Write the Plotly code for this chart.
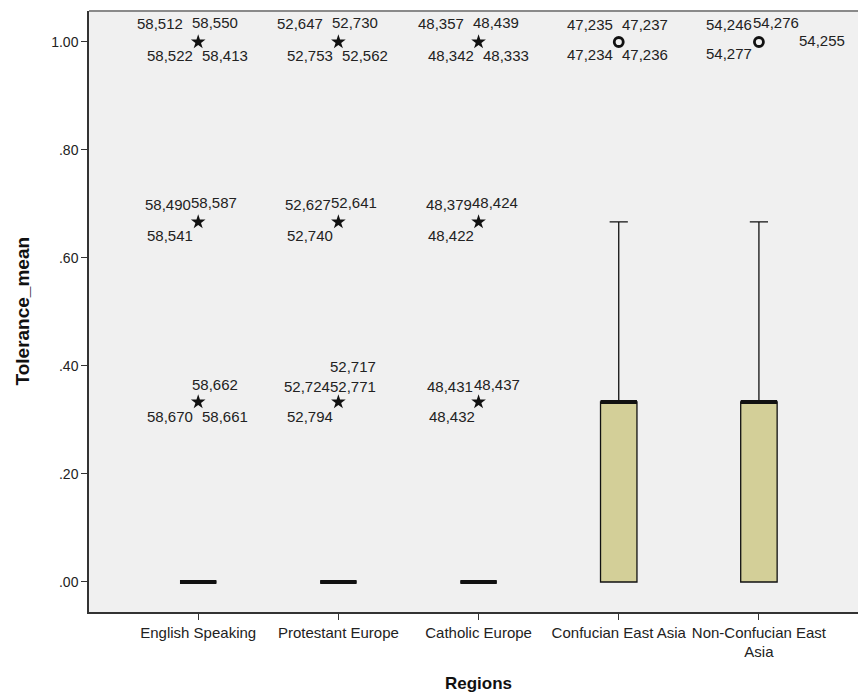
import plotly.graph_objects as go

# ---------------- data ----------------
categories = ["English Speaking", "Protestant Europe", "Catholic Europe",
              "Confucian East Asia", "Non-Confucian East<br>Asia"]
q1 = [0, 0, 0, 0, 0]
median = [0, 0, 0, 0.3333, 0.3333]
q3 = [0, 0, 0, 0.3333, 0.3333]
lowerfence = [0, 0, 0, 0, 0]
upperfence = [0, 0, 0, 0.6667, 0.6667]

# extreme values (asterisks): category index, value
extreme_cat = [0, 0, 0, 1, 1, 1, 2, 2, 2]
extreme_val = [1.0, 0.6667, 0.3333, 1.0, 0.6667, 0.3333, 1.0, 0.6667, 0.3333]
# outliers (circles)
outlier_cat = [3, 4]
outlier_val = [1.0, 1.0]

# case labels for each point (same order as above)
eng_100 = ["58,512", "58,550", "58,522", "58,413"]
eng_067 = ["58,490", "58,587", "58,541"]
eng_033 = ["58,662", "58,670", "58,661"]
pro_100 = ["52,647", "52,730", "52,753", "52,562"]
pro_067 = ["52,627", "52,641", "52,740"]
pro_033 = ["52,717", "52,724", "52,771", "52,794"]
cat_100 = ["48,357", "48,439", "48,342", "48,333"]
cat_067 = ["48,379", "48,424", "48,422"]
cat_033 = ["48,431", "48,437", "48,432"]
con_100 = ["47,235", "47,237", "47,234", "47,236"]
ncn_100 = ["54,246", "54,276", "54,277", "54,255"]

yticks = [0, 0.2, 0.4, 0.6, 0.8, 1.0]
ytick_text = [".00", ".20", ".40", ".60", ".80", "1.00"]
x_title = "Regions"
y_title = "Tolerance_mean"

# ---------------- styles / label placement (pixels) ----------------
BOX_W = 0.26
FONT = "Liberation Sans, Arial, sans-serif"
off4 = [(-38, -18), (17, -19), (-28, 14), (27, 14)]
off3 = [(-30, -17), (16, -19), (-28, 14)]
label_groups = [
    (eng_100, off4),
    (eng_067, off3),
    (eng_033, [(17, -18), (-28, 14), (27, 14)]),
    (pro_100, off4),
    (pro_067, off3),
    (pro_033, [(15, -36), (-31, -16), (15, -16), (-28, 14)]),
    (cat_100, off4),
    (cat_067, off3),
    (cat_033, [(-29, -16), (18, -18), (-27, 14)]),
]
outlier_label_groups = [
    (con_100, [(-29, -17), (26, -17), (-29, 13), (26, 13)]),
    (ncn_100, [(-30, -17), (17, -19), (-30, 12), (63, -1)]),
]

fig = go.Figure()

fig.add_trace(go.Box(
    x=list(range(len(categories))),
    q1=q1, median=median, q3=q3,
    lowerfence=lowerfence, upperfence=upperfence,
    width=BOX_W, whiskerwidth=0.5,
    fillcolor="#D3CF98",
    line=dict(color="#111111", width=1.3),
    boxpoints=False, showlegend=False, hoverinfo="skip",
))

# thick median lines
mx, my = [], []
for i, m in enumerate(median):
    mx += [i - BOX_W / 2, i + BOX_W / 2, None]
    my += [m, m, None]
fig.add_trace(go.Scatter(x=mx, y=my, mode="lines",
                         line=dict(color="#111111", width=4),
                         showlegend=False, hoverinfo="skip"))

fig.add_trace(go.Scatter(x=extreme_cat, y=extreme_val, mode="markers",
                         marker=dict(symbol="star", size=11, color="#111111",
                                     line=dict(width=0)),
                         showlegend=False, hoverinfo="skip"))
fig.add_trace(go.Scatter(x=outlier_cat, y=outlier_val, mode="markers",
                         marker=dict(symbol="circle-open", size=9, color="#111111",
                                     line=dict(width=2.8)),
                         showlegend=False, hoverinfo="skip"))

LBL_FONT = dict(family=FONT, size=15, color="#222222")
annotations = []
for (labels, offs), c, v in zip(label_groups, extreme_cat, extreme_val):
    for t, (dx, dy) in zip(labels, offs):
        annotations.append(dict(x=c, y=v, xref="x", yref="y", text=t, showarrow=False,
                                xanchor="center", yanchor="middle",
                                xshift=dx, yshift=-dy, font=LBL_FONT))
for (labels, offs), c, v in zip(outlier_label_groups, outlier_cat, outlier_val):
    for t, (dx, dy) in zip(labels, offs):
        annotations.append(dict(x=c, y=v, xref="x", yref="y", text=t, showarrow=False,
                                xanchor="center", yanchor="middle",
                                xshift=dx, yshift=-dy, font=LBL_FONT))

# axis titles
annotations.append(dict(text="<b>%s</b>" % x_title, xref="paper", yref="paper",
                        x=0.5, y=0, xanchor="center", yanchor="middle", yshift=-71,
                        showarrow=False, font=dict(family=FONT, size=17, color="#111111")))
annotations.append(dict(text="<b>%s</b>" % y_title, xref="paper", yref="paper",
                        x=0, y=0.5, xanchor="center", yanchor="middle", xshift=-67,
                        textangle=-90, showarrow=False,
                        font=dict(family=FONT, size=19, color="#111111")))

# the page body adds an 8px offset, compensated in the margins
fig.update_layout(
    width=866, height=696,
    margin=dict(l=81, r=7, t=3, b=92, autoexpand=False),
    paper_bgcolor="white", plot_bgcolor="#F0F0F0",
    font=dict(family=FONT, size=14, color="#222222"),
    annotations=annotations,
    shapes=[dict(type="line", xref="paper", yref="paper", x0=0, x1=1, y0=1, y1=1,
                 line=dict(color="#8a8a8a", width=2))],
)
fig.update_xaxes(
    range=[-0.779, 4.771], tickmode="array",
    tickvals=list(range(len(categories))), ticktext=categories,
    showgrid=False, zeroline=False, showline=True, linecolor="#333333", linewidth=1.5,
    ticks="outside", ticklen=6, tickcolor="#333333", tickwidth=1.2, automargin=False,
    tickfont=dict(family=FONT, size=15, color="#222222"),
)
fig.update_yaxes(
    range=[-0.0556, 1.0574], tickmode="array", tickvals=yticks, ticktext=ytick_text,
    showgrid=False, zeroline=False, showline=True, linecolor="#333333", linewidth=1.5,
    ticks="outside", ticklen=6, tickcolor="#333333", tickwidth=1.2, automargin=False,
    tickfont=dict(family=FONT, size=14, color="#222222"),
)

fig.write_html("out.html")
